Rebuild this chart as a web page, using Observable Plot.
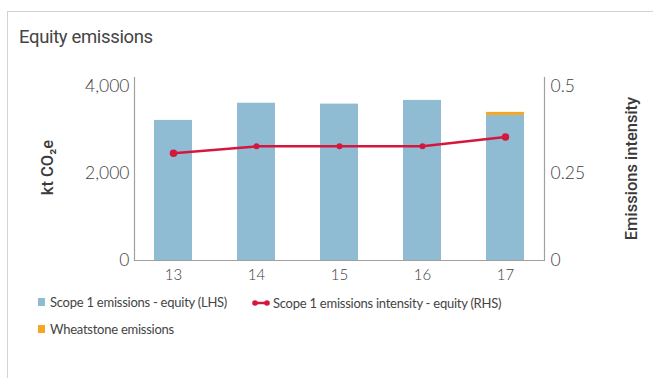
<!DOCTYPE html>
<html>
<head>
<meta charset="utf-8">
<script src="https://cdn.jsdelivr.net/npm/d3@7"></script>
<script src="https://cdn.jsdelivr.net/npm/@observablehq/plot@0.6"></script>
<style>
  html, body { margin: 0; padding: 0; background: #fff; }
  #wrap { position: relative; width: 653px; height: 378px; overflow: hidden; font-family: Lato, "Open Sans", sans-serif; color: #444; }
  #frame { position: absolute; left: 7px; top: 11px; width: 660px; height: 380px; border-left: 1.5px solid #d3d3d3; border-top: 1.5px solid #d3d3d3; }
  #title { position: absolute; left: 19px; top: 26px; font-family: Roboto, sans-serif; font-weight: 400; font-size: 18.5px; color: #444; letter-spacing: -0.35px; }
  #chart { position: absolute; left: 0; top: 0; }
  .ytitle { position: absolute; font-family: Roboto, sans-serif; font-weight: 500; font-size: 16.5px; color: #3a3a3a; white-space: nowrap; transform-origin: center center; }
  #legend { position: absolute; left: 0; top: 0; font-size: 13px; color: #444; letter-spacing: -0.25px; font-weight: 400; }
  .item { position: absolute; white-space: nowrap; display: flex; align-items: center; }
  .sw { display: inline-block; width: 7px; height: 8px; margin-right: 5px; }
</style>
</head>
<body>
<div id="wrap">
  <div id="frame"></div>
  <div id="title">Equity emissions</div>
  <div id="chart"></div>
  <div class="ytitle" id="ylTitle">kt CO₂e</div>
  <div class="ytitle" id="yrTitle">Emissions intensity</div>
  <div id="legend"></div>
</div>
<script>
// Financial years (20xx) shown on the x axis
const years = ["13", "14", "15", "16", "17"];
// Scope 1 emissions on an equity basis, kt CO2e (left axis)
const scope1Equity = [3220, 3615, 3595, 3680, 3335];
// Wheatstone emissions, kt CO2e, stacked on top of the equity bar
const wheatstone = [0, 0, 0, 0, 70];
// Scope 1 emissions intensity on an equity basis (right axis)
const intensity = [0.308, 0.328, 0.328, 0.328, 0.355];

const leftTicks = [0, 2000, 4000];
const rightTicks = [0, 0.25, 0.5];

const seriesNames = ["Scope 1 emissions - equity (LHS)", "Wheatstone emissions"];
const seriesColors = ["#8fbbd3", "#f6a623"];
const lineName = "Scope 1 emissions intensity - equity (RHS)";
const lineColor = "#d4183d";

// Right-axis values share the left y scale: 0.5 sits where 4,000 does
const k = 4000 / 0.5;

const barRows = years.flatMap((yr, i) => [
  {year: yr, series: seriesNames[0], value: scope1Equity[i]},
  {year: yr, series: seriesNames[1], value: wheatstone[i]}
]);
const lineRows = years.map((yr, i) => ({year: yr, v: intensity[i] * k}));

const fmt = d3.format(",");

const plot = Plot.plot({
  width: 653,
  height: 290,
  marginLeft: 134,
  marginRight: 109,
  marginTop: 77,
  marginBottom: 30,
  style: {fontFamily: "Lato, sans-serif", fontWeight: 300, color: "#444", background: "transparent"},
  x: {type: "band", domain: years, paddingInner: 0.542, paddingOuter: 0.24},
  y: {domain: [0, 4000 * 183 / 174]},
  color: {domain: seriesNames, range: seriesColors},
  marks: [
    Plot.barY(barRows, {x: "year", y: "value", fill: "series"}),
    Plot.frame({anchor: "left", stroke: "#a0a0a0", strokeWidth: 1.2}),
    Plot.frame({anchor: "right", stroke: "#a0a0a0", strokeWidth: 1.2}),
    Plot.ruleY([0], {stroke: "#a0a0a0", strokeWidth: 1.2}),
    Plot.line(lineRows, {x: "year", y: "v", stroke: lineColor, strokeWidth: 2.5}),
    Plot.dot(lineRows, {x: "year", y: "v", fill: lineColor, r: (d, i) => (i === 0 || i === years.length - 1) ? 3.6 : 2.3}),
    Plot.axisX({tickSize: 0, tickPadding: 9, fontSize: 15, label: null, fill: "#3d3d3d"}),
    Plot.axisY(leftTicks, {anchor: "left", tickSize: 0, tickPadding: 5, fontSize: 17.5, tickFormat: fmt, label: null, fill: "#3d3d3d"}),
    Plot.axisY(rightTicks.map(t => t * k), {anchor: "right", tickSize: 0, tickPadding: 6, fontSize: 17.5, tickFormat: d => String(d / k), label: null, fill: "#3d3d3d"})
  ]
});
document.getElementById("chart").appendChild(plot);

// Rotated axis titles
function placeTitle(id, cx, cy) {
  const el = document.getElementById(id);
  const w = el.offsetWidth, h = el.offsetHeight;
  el.style.left = (cx - w / 2) + "px";
  el.style.top = (cy - h / 2) + "px";
  el.style.transform = "rotate(-90deg)";
}
placeTitle("ylTitle", 47, 167);
placeTitle("yrTitle", 631, 168);

// Legend
const legend = document.getElementById("legend");
function addItem(x, y, html) {
  const d = document.createElement("div");
  d.className = "item";
  d.style.left = x + "px";
  d.style.top = (y - 9) + "px";
  d.style.height = "18px";
  d.innerHTML = html;
  legend.appendChild(d);
}
addItem(38, 302, `<span class="sw" style="background:${seriesColors[0]}"></span>${seriesNames[0]}`);
addItem(252, 303, `<svg width="20" height="8" style="margin-right:1px"><line x1="3" y1="4" x2="15" y2="4" stroke="${lineColor}" stroke-width="2.5"/><circle cx="3" cy="4" r="2.8" fill="${lineColor}"/><circle cx="15" cy="4" r="2.8" fill="${lineColor}"/></svg>${lineName}`);
addItem(38, 329, `<span class="sw" style="background:${seriesColors[1]}"></span>${seriesNames[1]}`);
</script>
</body>
</html>
